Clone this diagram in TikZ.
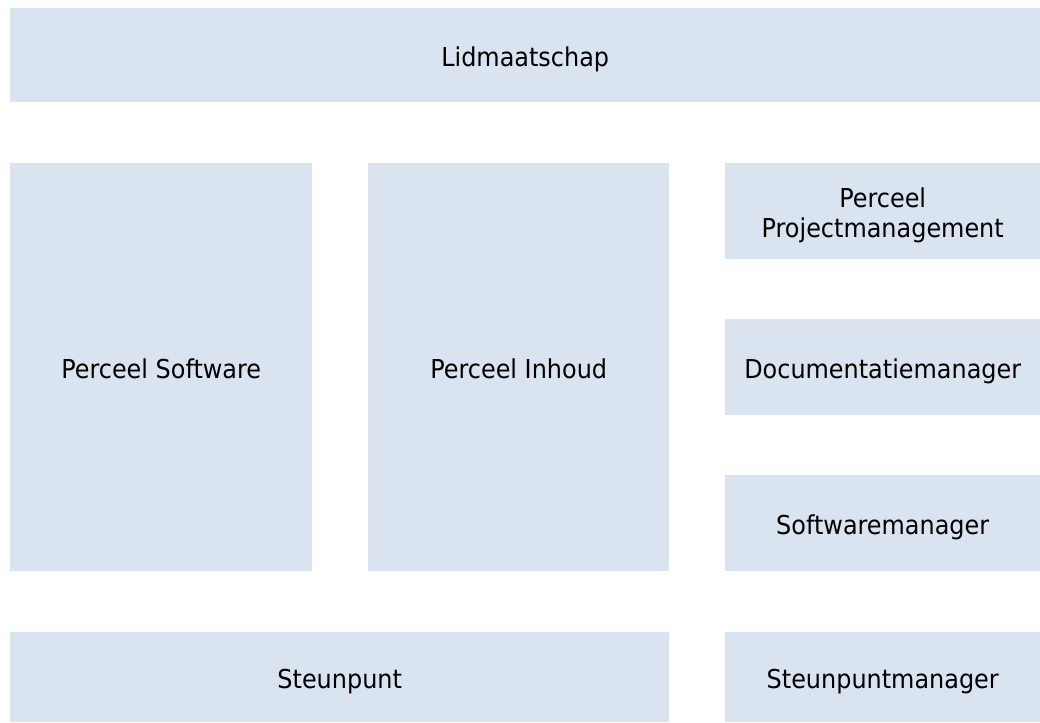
\documentclass[tikz,border=0pt]{standalone}
\usepackage{fontspec}
\setmainfont[FakeStretch=0.92]{DejaVu Sans}
\definecolor{blokblauw}{HTML}{DAE3F0}

\tikzset{
    blok/.style={fill=blokblauw, anchor=north west, inner sep=0pt, align=center,
        text height=22pt, text depth=0pt,
        font=\fontsize{26pt}{30pt}\selectfont},
}

\begin{document}
\begin{tikzpicture}[x=1pt, y=-1pt]
    \useasboundingbox (0, 0) rectangle (1040, 722);
    \node[blok, minimum width=1030pt, minimum height=94pt] (lidmaatschap) at (10, 8) {Lidmaatschap};
    \node[blok, minimum width=302pt, minimum height=408pt] (software) at (10, 163) {Perceel Software};
    \node[blok, minimum width=301pt, minimum height=408pt] (inhoud) at (368, 163) {Perceel Inhoud};
    \node[blok, minimum width=315pt, minimum height=96pt, text height=52pt] (projectmgmt) at (725, 163) {Perceel\\Projectmanagement};
    \node[blok, minimum width=315pt, minimum height=96pt] (docmanager) at (725, 319) {Documentatiemanager};
    \node[blok, minimum width=315pt, minimum height=96pt] (swmanager) at (725, 475) {Softwaremanager};
    \node[blok, minimum width=659pt, minimum height=90pt] (steunpunt) at (10, 632) {Steunpunt};
    \node[blok, minimum width=315pt, minimum height=90pt] (steunptmanager) at (725, 632) {Steunpuntmanager};
\end{tikzpicture}
\end{document}
